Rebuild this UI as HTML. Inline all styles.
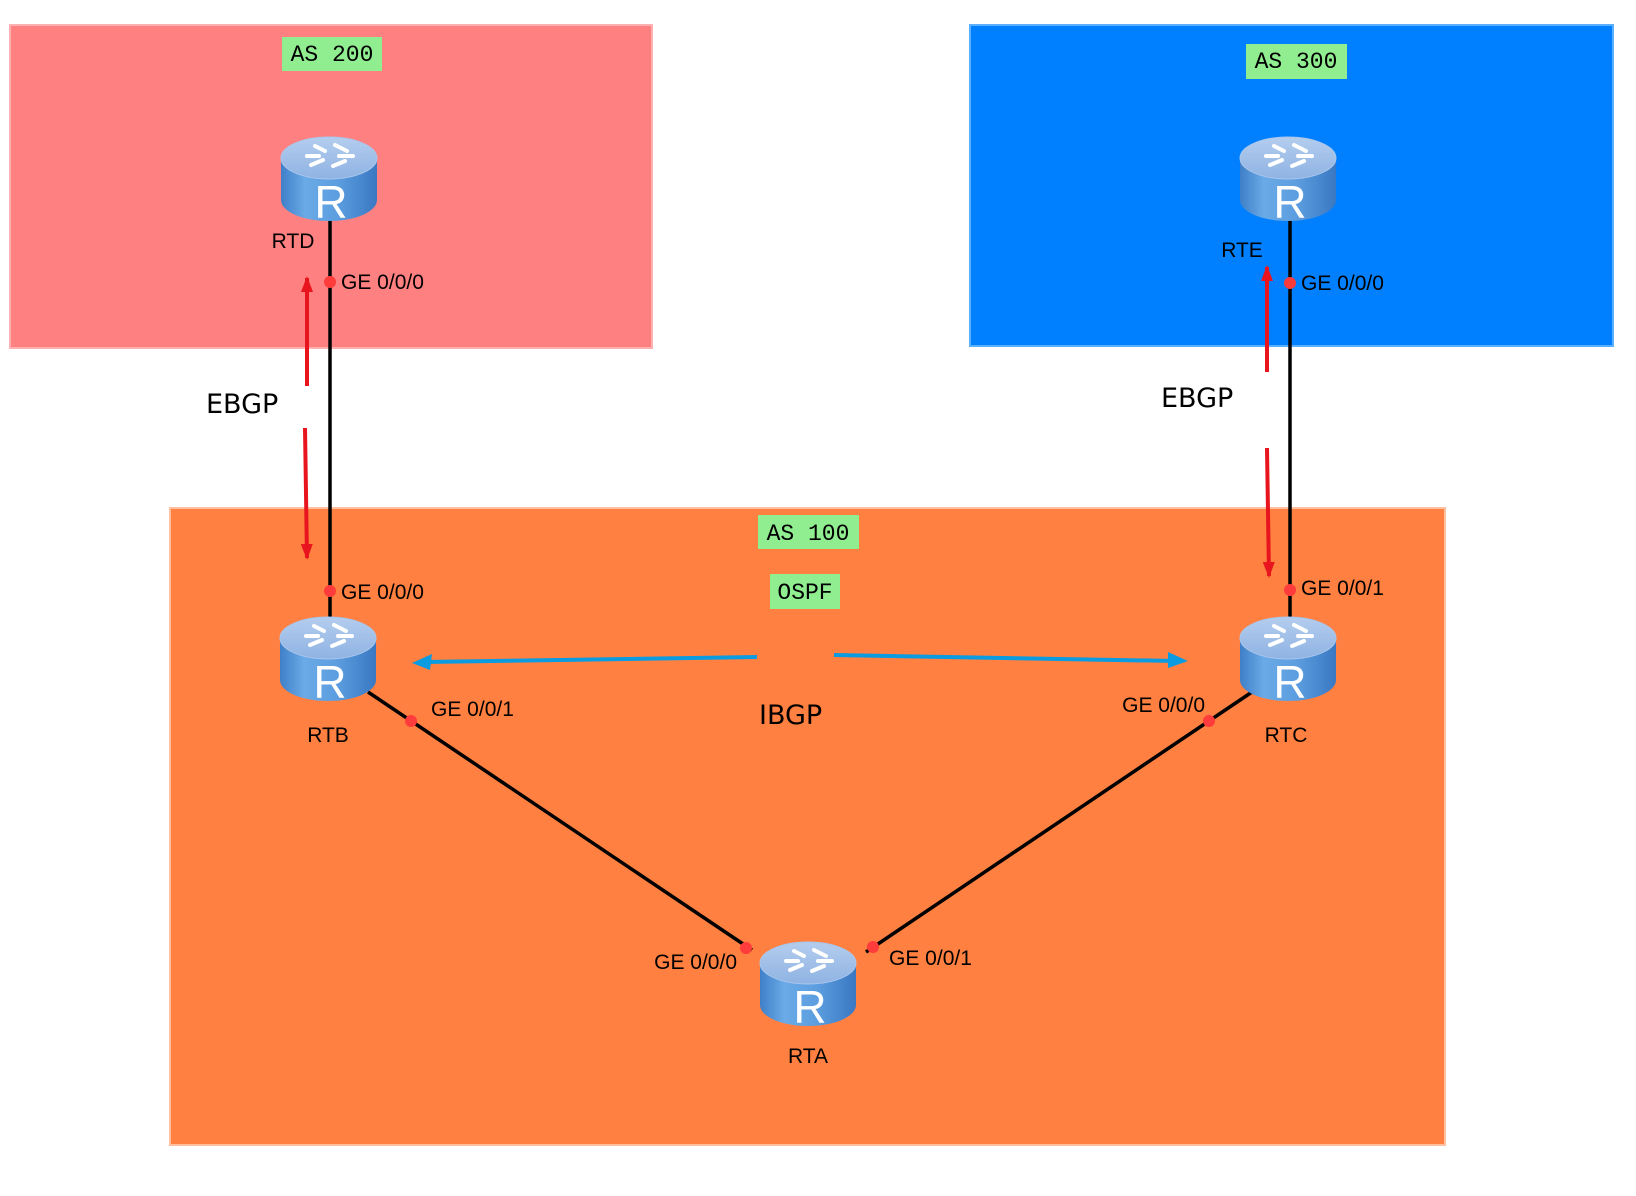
<!DOCTYPE html>
<html><head><meta charset="utf-8"><style>
html,body{margin:0;padding:0;background:#fff;}
svg{display:block}
</style></head><body>
<svg width="1636" height="1196" viewBox="0 0 1636 1196" xmlns="http://www.w3.org/2000/svg">
<defs>
<linearGradient id="side" x1="0" x2="1" y1="0" y2="0">
<stop offset="0" stop-color="#3f7fc8"/><stop offset="0.25" stop-color="#6aaae6"/><stop offset="0.6" stop-color="#5b9ddf"/><stop offset="1" stop-color="#3a78c2"/>
</linearGradient>
<linearGradient id="top" x1="0" x2="0" y1="0" y2="1">
<stop offset="0" stop-color="#b4cdee"/><stop offset="1" stop-color="#8fb3e3"/>
</linearGradient>
<g id="rt">
<path d="M-48,-20 L-48,22 A48,21 0 0 0 48,22 L48,-20 Z" fill="url(#side)"/>
<ellipse cx="0" cy="-20" rx="48" ry="21" fill="url(#top)" stroke="#a9c6ec" stroke-width="1"/>
<g stroke="#fff" stroke-width="4" fill="none" stroke-linecap="round">
<path d="M-14,-32 L-4,-27 M6,-33 L18,-27 M-18,-13 L-6,-18 M4,-12 L16,-17 M-22,-22 L-10,-22 M10,-22 L24,-22"/>
</g>
<text x="2" y="40" font-family="Liberation Sans, sans-serif" font-size="46" fill="#fff" text-anchor="middle">R</text>
</g>
<marker id="ar" markerWidth="16" markerHeight="12" refX="14" refY="6" orient="auto" markerUnits="userSpaceOnUse"><path d="M0,0 L16,6 L0,12 Z" fill="#e8141e"/></marker>
</defs>
<rect x="10" y="25" width="642" height="323" fill="#ff8080" stroke="#ffb0b0" stroke-width="2"/>
<rect x="970" y="25" width="643" height="321" fill="#0080ff" stroke="#5ab0ff" stroke-width="2"/>
<rect x="170" y="508" width="1275" height="637" fill="#ff8040" stroke="#ffc0a0" stroke-width="2"/>

<g font-family="Liberation Mono, monospace" font-size="23" fill="#000">
<rect x="282" y="37" width="100" height="34" fill="#90ee90"/><text x="332" y="61" text-anchor="middle">AS 200</text>
<rect x="1246" y="44" width="101" height="35" fill="#90ee90"/><text x="1296" y="68" text-anchor="middle">AS 300</text>
<rect x="758" y="515" width="101" height="34" fill="#90ee90"/><text x="808" y="540" text-anchor="middle">AS 100</text>
<rect x="770" y="574" width="70" height="35" fill="#90ee90"/><text x="805" y="599" text-anchor="middle">OSPF</text>
</g>

<g stroke="#000" stroke-width="3.5">
<line x1="330" y1="215" x2="330" y2="620"/>
<line x1="1290" y1="215" x2="1290" y2="620"/>
<line x1="368" y1="692" x2="752" y2="950"/>
<line x1="1252" y1="692" x2="866" y2="952"/>
</g>

<use href="#rt" x="329" y="178"/>
<use href="#rt" x="1288" y="178"/>
<use href="#rt" x="328" y="658"/>
<use href="#rt" x="1288" y="658"/>
<use href="#rt" x="808" y="983"/>

<g fill="#ff3b3b">
<circle cx="330" cy="282" r="6"/><circle cx="330" cy="591" r="6"/>
<circle cx="1290" cy="283" r="6"/><circle cx="1290" cy="590" r="6"/>
<circle cx="411" cy="721" r="6"/><circle cx="746" cy="948" r="6"/>
<circle cx="1209" cy="721" r="6"/><circle cx="873" cy="947" r="6"/>
</g>

<g stroke="#e8141e" stroke-width="4" marker-end="url(#ar)">
<line x1="307" y1="386" x2="307" y2="278"/>
<line x1="305" y1="428" x2="307" y2="558"/>
<line x1="1267" y1="372" x2="1267" y2="267"/>
<line x1="1267" y1="448" x2="1269" y2="576"/>
</g>
<g stroke="#0a9be0" stroke-width="4">
<line x1="757" y1="657" x2="425" y2="662"/>
<line x1="834" y1="655" x2="1176" y2="661"/>
</g>
<path d="M412,663 L432,654 L430,670 Z" fill="#0a9be0"/>
<path d="M1188,661 L1168,652 L1168,668 Z" fill="#0a9be0"/>

<g font-family="Liberation Sans, sans-serif" font-size="21" fill="#000">
<text x="293" y="248" text-anchor="middle">RTD</text>
<text x="341" y="289">GE 0/0/0</text>
<text x="1242" y="257" text-anchor="middle">RTE</text>
<text x="1301" y="290">GE 0/0/0</text>
<text x="341" y="599">GE 0/0/0</text>
<text x="328" y="742" text-anchor="middle">RTB</text>
<text x="431" y="716">GE 0/0/1</text>
<text x="1205" y="712" text-anchor="end">GE 0/0/0</text>
<text x="1286" y="742" text-anchor="middle">RTC</text>
<text x="1301" y="595">GE 0/0/1</text>
<text x="737" y="969" text-anchor="end">GE 0/0/0</text>
<text x="889" y="965">GE 0/0/1</text>
<text x="808" y="1063" text-anchor="middle">RTA</text>
</g>
<g font-family="DejaVu Sans, sans-serif" font-size="27" fill="#000">
<text x="206" y="413">EBGP</text>
<text x="1161" y="407">EBGP</text>
<text x="759" y="724">IBGP</text>
</g>
</svg>
</body></html>
